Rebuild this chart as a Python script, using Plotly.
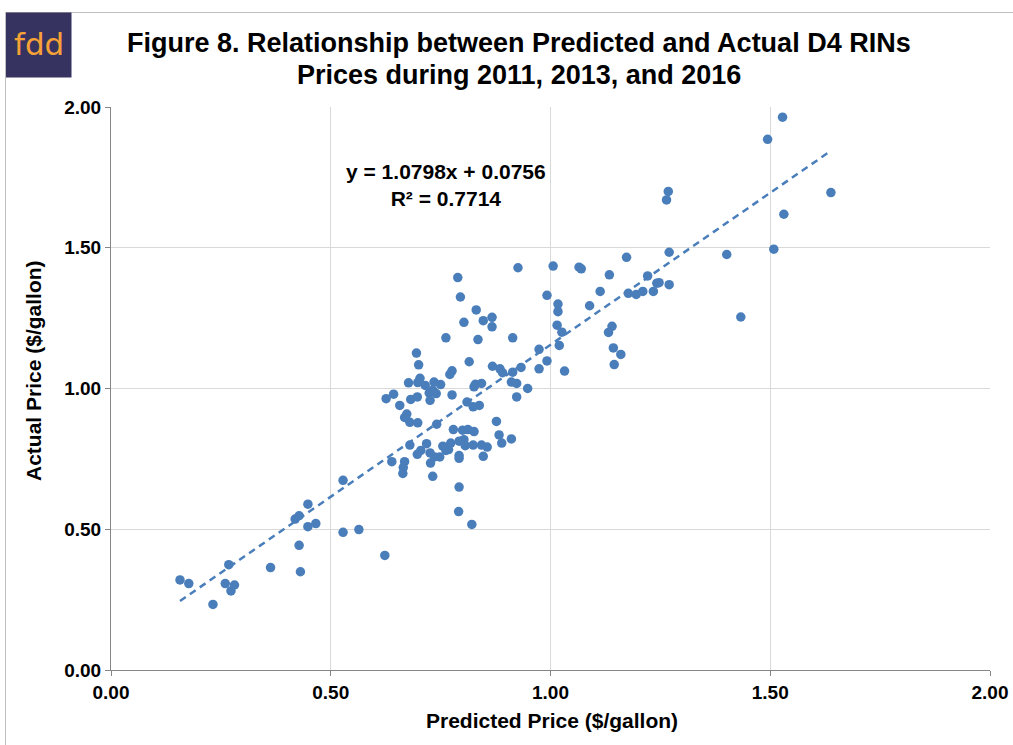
import plotly.graph_objects as go

# Predicted price ($/gallon)
predicted = [
    0.157, 0.177, 0.232, 0.268, 0.260, 0.281, 0.273, 0.363, 0.428, 0.431,
    0.419, 0.428, 0.448, 0.448, 0.466, 0.528, 0.528, 0.564, 0.623, 0.792,
    0.791, 0.821,
    0.926, 1.006, 1.065, 1.070, 0.789, 0.795, 0.992, 1.017, 1.017, 0.831,
    0.867, 0.847, 0.803, 0.867, 1.015, 1.026, 0.762, 0.835, 0.914, 1.020,
    0.974, 0.695, 0.700, 0.815, 0.992, 1.032, 0.868, 0.885, 0.891, 0.933,
    0.974, 0.914, 0.776, 0.771, 0.703, 0.677, 0.698, 0.715, 0.735, 0.750,
    0.724, 0.732, 0.740, 0.726, 0.826, 0.829, 0.843, 0.911, 0.923, 0.948,
    0.923, 0.776, 0.810, 0.824, 0.838, 0.626, 0.643, 0.657, 0.682, 0.697,
    0.673, 0.668, 0.680, 0.698, 0.741, 0.877, 0.779, 0.800, 0.812, 0.826,
    0.883, 0.889, 0.911, 0.680, 0.718, 0.755, 0.773, 0.792, 0.803, 0.806,
    0.824, 0.843, 0.856, 0.705, 0.697, 0.726, 0.736, 0.748, 0.762, 0.768,
    0.792, 0.792, 0.847, 0.639, 0.668, 0.665, 0.664, 0.727, 0.732,
    1.173, 1.270, 1.401, 1.508, 1.134, 1.221, 1.113, 1.089, 1.177, 1.195,
    1.210, 1.234, 1.242, 1.247, 1.270, 1.140, 1.132, 1.143, 1.160, 1.145,
    1.433,
    1.528, 1.494, 1.268, 1.264, 1.638, 1.531,
]

# Actual price ($/gallon)
actual = [
    0.320, 0.307, 0.233, 0.374, 0.307, 0.302, 0.281, 0.364, 0.443, 0.349,
    0.536, 0.548, 0.589, 0.509, 0.520, 0.674, 0.489, 0.499, 0.407, 0.650,
    0.563, 0.517,
    1.429, 1.435, 1.431, 1.425, 1.394, 1.325, 1.331, 1.300, 1.273, 1.279,
    1.253, 1.241, 1.235, 1.219, 1.225, 1.200, 1.180, 1.174, 1.180, 1.153,
    1.139, 1.126, 1.084, 1.095, 1.098, 1.062, 1.079, 1.070, 1.056, 1.075,
    1.070, 1.058, 1.063, 1.050, 1.036, 1.020, 1.021, 1.011, 1.023, 1.014,
    0.984, 0.994, 0.982, 0.958, 1.006, 1.015, 1.018, 1.023, 1.018, 1.000,
    0.970, 0.977, 0.952, 0.935, 0.940, 0.964, 0.980, 0.940, 0.961, 0.970,
    0.909, 0.897, 0.880, 0.878, 0.873, 0.883, 0.854, 0.852, 0.854, 0.847,
    0.835, 0.806, 0.821, 0.799, 0.804, 0.795, 0.806, 0.813, 0.818, 0.797,
    0.799, 0.799, 0.792, 0.780, 0.766, 0.771, 0.757, 0.757, 0.780, 0.783,
    0.762, 0.752, 0.759, 0.740, 0.740, 0.719, 0.698, 0.735, 0.688,
    1.466, 1.484, 1.476, 1.495, 1.404, 1.400, 1.345, 1.294, 1.338, 1.334,
    1.345, 1.345, 1.374, 1.376, 1.369, 1.221, 1.199, 1.144, 1.121, 1.085,
    1.254,
    1.964, 1.885, 1.700, 1.670, 1.696, 1.619,
]

# Linear trend as printed on the chart
slope = 1.0798
intercept = 0.0756
r_squared = 0.7714

axis_ticks = [0.0, 0.5, 1.0, 1.5, 2.0]
axis_tick_labels = ["0.00", "0.50", "1.00", "1.50", "2.00"]

title_line1 = "Figure 8. Relationship between Predicted and Actual D4 RINs"
title_line2 = "Prices during 2011, 2013, and 2016"
x_title = "Predicted Price ($/gallon)"
y_title = "Actual Price ($/gallon)"
logo_text = "fdd"

BLUE = "#4a7ebb"
FONT = "Liberation Sans"

# Page body margin is removed (post_script), so layout is in page pixels.
PL, PR, PT, PB = 111, 990, 107, 670   # plot area in pixels
FIG_W, FIG_H = 1013, 745
PW, PH = PR - PL, PB - PT


def px(xp):
    return (xp - PL) / PW


def py(yp):
    return (PB - yp) / PH


trend_x = [min(predicted), max(predicted)]
trend_y = [slope * v + intercept for v in trend_x]

fig = go.Figure()
fig.add_trace(go.Scatter(
    x=predicted, y=actual, mode="markers",
    marker=dict(color=BLUE, size=9.5, line=dict(width=0)),
    hoverinfo="skip", showlegend=False,
))
fig.add_trace(go.Scatter(
    x=trend_x, y=trend_y, mode="lines",
    line=dict(color=BLUE, width=2.5, dash="7px,5px"),
    hoverinfo="skip", showlegend=False,
))

axis_common = dict(
    range=[0, 2], tickvals=axis_ticks, ticktext=axis_tick_labels,
    showgrid=True, gridcolor="#d9d9d9", gridwidth=1,
    showline=True, linecolor="#868686", linewidth=1,
    ticks="outside", ticklen=5, tickcolor="#868686",
    zeroline=False, fixedrange=True, automargin=False,
    ticklabeloverflow="allow",
    tickfont=dict(family=FONT, size=19, color="#000000", weight="bold"),
)

fig.update_layout(
    width=FIG_W, height=FIG_H,
    margin=dict(l=PL, r=FIG_W - PR, t=PT, b=FIG_H - PB),
    paper_bgcolor="white", plot_bgcolor="white",
    xaxis=dict(**axis_common),
    yaxis=dict(**axis_common),
)

# title (two lines)
for txt, yy in [(title_line1, 43), (title_line2, 75)]:
    fig.add_annotation(
        x=px(519), y=py(yy), xref="paper", yref="paper", showarrow=False,
        text=txt, xanchor="center", yanchor="middle",
        font=dict(family=FONT, size=27, color="#000000", weight="bold"),
    )

# equation annotation
fig.add_annotation(
    x=px(446), y=py(185), xref="paper", yref="paper", showarrow=False,
    xanchor="center", yanchor="middle",
    text=f"y = {slope:.4f}x + {intercept:.4f}<br>R² = {r_squared:.4f}",
    font=dict(family=FONT, size=21, color="#000000", weight="bold"),
    align="center",
)

# axis titles
fig.add_annotation(
    x=px(552), y=py(720), xref="paper", yref="paper", showarrow=False,
    xanchor="center", yanchor="middle",
    text=x_title, font=dict(family=FONT, size=21, color="#000000", weight="bold"),
)
fig.add_annotation(
    x=px(33), y=py(371), xref="paper", yref="paper",
    showarrow=False, textangle=-90, xanchor="center", yanchor="middle",
    text=y_title, font=dict(family=FONT, size=21, color="#000000", weight="bold"),
)

# outer frame (top and left edges) and logo
fig.add_shape(type="line", xref="paper", yref="paper",
              x0=px(5.5), x1=px(1013), y0=py(12.5), y1=py(12.5),
              line=dict(color="#bfbfbf", width=1), layer="below")
fig.add_shape(type="line", xref="paper", yref="paper",
              x0=px(5.5), x1=px(5.5), y0=py(12.5), y1=py(745),
              line=dict(color="#bfbfbf", width=1), layer="below")
fig.add_shape(type="rect", xref="paper", yref="paper",
              x0=px(6), x1=px(71.5), y0=py(77.5), y1=py(12.5),
              line=dict(width=0), fillcolor="#363361", layer="above")
fig.add_annotation(
    x=px(39), y=py(44), xref="paper", yref="paper",
    showarrow=False, text=logo_text, xanchor="center", yanchor="middle",
    font=dict(family="DejaVu Sans", size=31, color="#f7a237"),
)

fig.write_html(
    "out.html",
    config={"displayModeBar": False},
    post_script="document.body.style.margin='0';document.body.style.overflow='hidden';",
)
